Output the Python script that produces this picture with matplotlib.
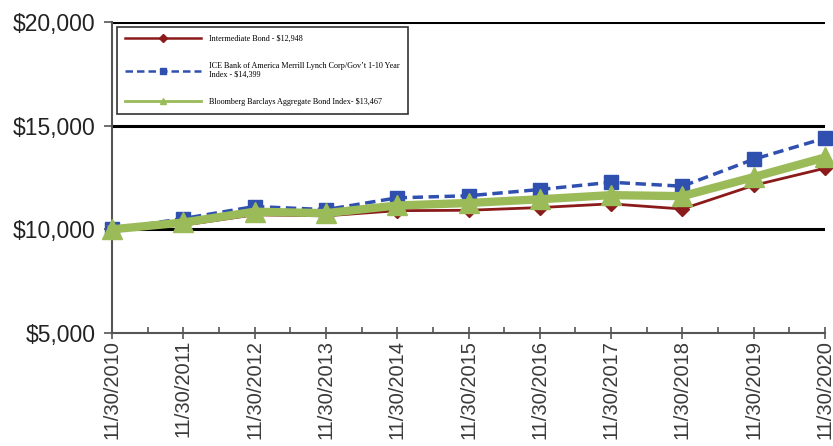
import matplotlib
matplotlib.use("Agg")
import matplotlib.pyplot as plt
from matplotlib.lines import Line2D
from matplotlib.ticker import FuncFormatter, MultipleLocator

dates = ["11/30/2010", "11/30/2011", "11/30/2012", "11/30/2013", "11/30/2014",
         "11/30/2015", "11/30/2016", "11/30/2017", "11/30/2018", "11/30/2019",
         "11/30/2020"]

intermediate_bond = [10000, 10200, 10700, 10650, 10900, 10920, 11050, 11230, 10980, 12120, 12948]
ice_bofaml_1_10 = [10000, 10520, 11100, 10950, 11520, 11620, 11920, 12270, 12080, 13380, 14399]
bloomberg_agg = [10000, 10330, 10850, 10780, 11150, 11270, 11450, 11650, 11600, 12520, 13467]

labels = [
    "Intermediate Bond - $12,948",
    "ICE Bank of America Merrill Lynch Corp/Gov\u2019t 1-10 Year\nIndex - $14,399",
    "Bloomberg Barclays Aggregate Bond Index- $13,467",
]

RED = "#8B1A1A"
BLUE = "#3050B0"
GREEN = "#9BBB59"

fig = plt.figure(figsize=(8.33, 4.46), dpi=100)
ax = fig.add_axes([112 / 833, 1 - 333 / 446, 713 / 833, 311 / 446])

x = list(range(len(dates)))

for yv in (10000, 15000, 20000):
    ax.axhline(yv, color="black", lw=2.2, zorder=1)

ax.plot(x, intermediate_bond, color=RED, lw=2, marker="D",
        markersize=7, zorder=3, clip_on=False)
ax.plot(x, ice_bofaml_1_10, color=BLUE, lw=2.5, ls=(0, (3, 1.6)),
        marker="s", markersize=10.5, zorder=4, clip_on=False)
ax.plot(x, bloomberg_agg, color=GREEN, lw=6, marker="^",
        markersize=14, zorder=5, clip_on=False)

ax.set_xlim(0, len(dates) - 1)
ax.set_ylim(5000, 20000)
ax.yaxis.set_major_locator(MultipleLocator(5000))
ax.yaxis.set_major_formatter(FuncFormatter(lambda v, p: f"${v:,.0f}"))
ax.set_xticks(x)
ax.set_xticklabels(dates, rotation=90, fontsize=14.5, color="#3a3a3a",
                   family="Liberation Sans")
ax.xaxis.set_minor_locator(MultipleLocator(0.5))
for lab in ax.get_yticklabels():
    lab.set_fontsize(16.5)
    lab.set_family("Liberation Sans")
    lab.set_color("#222222")

ax.tick_params(axis="y", direction="out", length=6, width=1.2, color="#555555", pad=6)
ax.tick_params(axis="x", which="major", direction="inout", length=8, width=1.2,
               color="#555555", pad=1)
ax.tick_params(axis="x", which="minor", direction="in", length=4, width=1.2,
               color="#555555")

for s in ("top", "right"):
    ax.spines[s].set_visible(False)
for s in ("left", "bottom"):
    ax.spines[s].set_color("#555555")
    ax.spines[s].set_linewidth(1.5)

handles = [
    Line2D([], [], color=RED, lw=1.8, marker="D", markersize=4),
    Line2D([], [], color=BLUE, lw=1.8, ls=(0, (3, 1.6)), marker="s", markersize=5),
    Line2D([], [], color=GREEN, lw=2.0, marker="^", markersize=5),
]
leg = ax.legend(handles, labels, loc="upper left",
                bbox_to_anchor=(117 / 833, 1 - 27 / 446),
                bbox_transform=fig.transFigure, borderaxespad=0,
                prop={"family": "Liberation Serif", "size": 5.9},
                handlelength=9.3, handletextpad=0.9, labelspacing=2.3,
                borderpad=1.0, frameon=True, fancybox=False)
leg.get_frame().set_edgecolor("black")
leg.get_frame().set_linewidth(1.2)
leg.set_zorder(10)

fig.savefig("out.png", dpi=100)
